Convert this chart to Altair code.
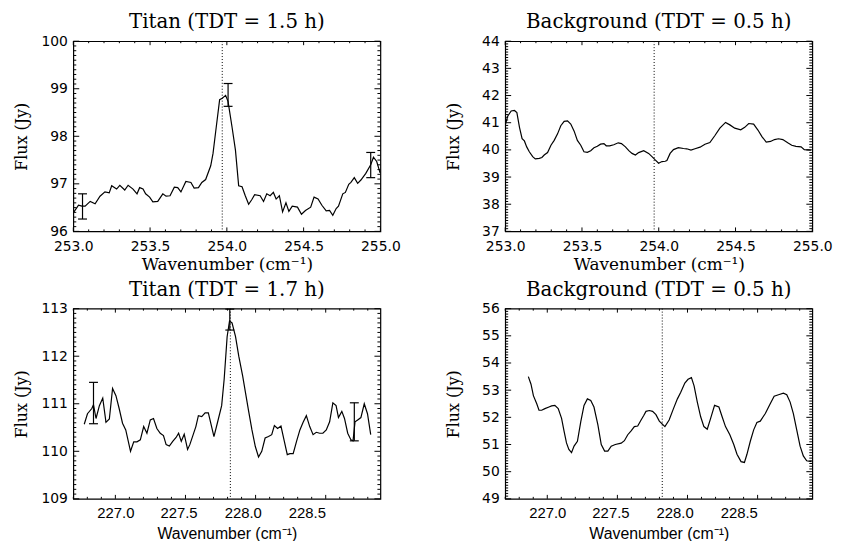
import altair as alt
import pandas as pd

# ---------------- data ----------------
# Panel 1: Titan (TDT = 1.5 h)
p1_wn = [253.002, 253.034, 253.056, 253.077, 253.110, 253.142, 253.174, 253.206, 253.234, 253.250,
         253.282, 253.303, 253.335, 253.357, 253.389, 253.415, 253.432, 253.454, 253.471, 253.497,
         253.518, 253.550, 253.583, 253.604, 253.630, 253.658, 253.680, 253.701, 253.733, 253.766,
         253.787, 253.815, 253.837, 253.862, 253.895, 253.910, 253.927, 253.953, 253.970, 253.992,
         254.008, 254.034, 254.056, 254.077, 254.099, 254.120, 254.142, 254.163, 254.181, 254.217,
         254.239, 254.260, 254.282, 254.303, 254.321, 254.342, 254.363, 254.385, 254.404, 254.426,
         254.460, 254.486, 254.512, 254.546, 254.568, 254.594, 254.619, 254.647, 254.669, 254.690,
         254.712, 254.727, 254.755, 254.772, 254.794, 254.808, 254.830, 254.852, 254.873, 254.905,
         254.937, 254.955, 254.976, 254.998]
p1_flux = [96.40, 96.55, 96.53, 96.53, 96.63, 96.58, 96.74, 96.83, 96.81, 96.96,
           96.89, 96.97, 96.87, 96.97, 96.89, 96.79, 96.92, 96.89, 96.79, 96.72,
           96.62, 96.63, 96.79, 96.74, 96.75, 96.93, 96.92, 96.83, 97.05, 97.03,
           96.91, 96.92, 97.03, 97.09, 97.38, 97.64, 98.09, 98.77, 98.80, 98.86,
           98.73, 98.19, 97.71, 96.96, 96.94, 96.75, 96.57, 96.67, 96.77, 96.75,
           96.63, 96.79, 96.75, 96.82, 96.68, 96.75, 96.41, 96.60, 96.42, 96.53,
           96.51, 96.36, 96.44, 96.51, 96.72, 96.68, 96.55, 96.43, 96.44, 96.34,
           96.48, 96.53, 96.79, 96.82, 96.99, 97.03, 97.13, 97.01, 97.08, 97.22,
           97.40, 97.56, 97.47, 97.23]
p1_err_wn = [253.060, 254.008, 254.937]
p1_err_lo = [96.26, 98.63, 97.13]
p1_err_hi = [96.79, 99.11, 97.66]
p1_line = 253.97

# Panel 2: Background (TDT = 0.5 h), upper
p2_wn = [253.002, 253.017, 253.039, 253.060, 253.076, 253.093, 253.110, 253.125, 253.140, 253.157,
         253.179, 253.196, 253.222, 253.239, 253.254, 253.276, 253.298, 253.319, 253.341, 253.362,
         253.384, 253.406, 253.427, 253.449, 253.470, 253.492, 253.513, 253.535, 253.557, 253.578,
         253.600, 253.621, 253.643, 253.658, 253.680, 253.707, 253.736, 253.757, 253.783, 253.805,
         253.826, 253.848, 253.869, 253.902, 253.934, 253.956, 253.977, 253.999, 254.021, 254.042,
         254.053, 254.074, 254.096, 254.128, 254.161, 254.182, 254.210, 254.236, 254.269, 254.301,
         254.333, 254.366, 254.398, 254.435, 254.463, 254.495, 254.534, 254.560, 254.586, 254.618,
         254.646, 254.672, 254.700, 254.728, 254.754, 254.780, 254.808, 254.840, 254.866, 254.894,
         254.927, 254.948, 254.991]
p2_flux = [40.95, 41.25, 41.43, 41.45, 41.37, 40.83, 40.41, 40.33, 40.11, 39.93,
           39.75, 39.67, 39.69, 39.72, 39.81, 39.90, 40.17, 40.35, 40.59, 40.89,
           41.05, 41.07, 40.95, 40.69, 40.35, 40.17, 39.93, 39.91, 39.97, 40.08,
           40.13, 40.21, 40.23, 40.15, 40.15, 40.19, 40.26, 40.23, 40.11, 39.97,
           39.87, 39.81, 39.90, 39.97, 39.87, 39.75, 39.63, 39.51, 39.57, 39.58,
           39.61, 39.87, 40.01, 40.08, 40.05, 40.04, 39.99, 40.04, 40.10, 40.21,
           40.27, 40.53, 40.80, 41.01, 40.92, 40.80, 40.74, 40.83, 40.97, 40.95,
           40.73, 40.49, 40.29, 40.31, 40.38, 40.41, 40.38, 40.26, 40.17, 40.13,
           40.11, 40.01, 39.99]
p2_line = 253.97

# Panel 3: Titan (TDT = 1.7 h)
p3_wn = [226.778, 226.801, 226.832, 226.844, 226.862, 226.886, 226.910, 226.933, 226.957, 226.980,
         227.004, 227.027, 227.051, 227.074, 227.108, 227.131, 227.154, 227.178, 227.202, 227.225,
         227.249, 227.272, 227.296, 227.320, 227.343, 227.362, 227.385, 227.409, 227.433, 227.451,
         227.470, 227.491, 227.515, 227.531, 227.555, 227.574, 227.592, 227.616, 227.640, 227.663,
         227.703, 227.727, 227.758, 227.776, 227.797, 227.814, 227.832, 227.857, 227.880, 227.908,
         227.927, 227.950, 227.974, 227.998, 228.021, 228.044, 228.068, 228.092, 228.115, 228.134,
         228.157, 228.181, 228.205, 228.226, 228.245, 228.268, 228.292, 228.316, 228.339, 228.362,
         228.386, 228.410, 228.433, 228.457, 228.480, 228.504, 228.528, 228.551, 228.574, 228.591,
         228.615, 228.634, 228.657, 228.680, 228.695, 228.709, 228.728, 228.751, 228.775, 228.798,
         228.821]
p3_flux = [110.57, 110.79, 110.90, 110.98, 110.69, 110.96, 111.12, 110.61, 110.68, 111.32,
           111.17, 110.90, 110.59, 110.45, 110.00, 110.20, 110.20, 110.24, 110.52, 110.38,
           110.66, 110.69, 110.48, 110.38, 110.33, 110.14, 110.11, 110.21, 110.29, 110.38,
           110.21, 110.36, 110.04, 110.14, 110.35, 110.52, 110.75, 110.73, 110.81, 110.81,
           110.31, 110.59, 110.96, 111.52, 112.41, 112.74, 112.70, 112.41, 112.00, 111.58,
           111.25, 110.85, 110.45, 110.10, 109.88, 110.00, 110.28, 110.31, 110.35, 110.54,
           110.48, 110.53, 110.21, 109.93, 109.95, 109.95, 110.21, 110.45, 110.61, 110.75,
           110.52, 110.35, 110.40, 110.38, 110.38, 110.45, 110.62, 111.02, 110.96, 110.71,
           110.84, 110.69, 110.38, 110.24, 110.22, 110.62, 110.66, 110.71, 111.00, 110.79,
           110.35]
p3_err_wn = [226.844, 227.816, 228.704]
p3_err_lo = [110.58, 112.55, 110.22]
p3_err_hi = [111.45, 112.99, 111.02]
p3_line = 227.82

# Panel 4: Background (TDT = 0.5 h), lower
p4_wn = [226.865, 226.884, 226.901, 226.925, 226.941, 226.960, 226.983, 227.012, 227.031, 227.054,
         227.078, 227.102, 227.120, 227.137, 227.154, 227.173, 227.191, 227.215, 227.239, 227.262,
         227.286, 227.310, 227.333, 227.361, 227.385, 227.409, 227.432, 227.456, 227.485, 227.527,
         227.550, 227.574, 227.598, 227.621, 227.645, 227.669, 227.687, 227.704, 227.728, 227.751,
         227.775, 227.799, 227.839, 227.869, 227.900, 227.928, 227.952, 227.981, 228.004, 228.028,
         228.047, 228.070, 228.094, 228.117, 228.141, 228.165, 228.193, 228.224, 228.247, 228.271,
         228.302, 228.330, 228.353, 228.382, 228.406, 228.424, 228.448, 228.472, 228.495, 228.519,
         228.555, 228.590, 228.618, 228.649, 228.684, 228.708, 228.732, 228.755, 228.779, 228.803,
         228.826, 228.850, 228.885]
p4_flux = [53.50, 53.22, 52.80, 52.50, 52.26, 52.26, 52.32, 52.38, 52.42, 52.44,
           52.32, 51.96, 51.48, 51.06, 50.82, 50.70, 50.94, 51.12, 51.84, 52.44,
           52.68, 52.62, 52.38, 51.72, 51.00, 50.76, 50.76, 50.94, 51.00, 51.05,
           51.14, 51.36, 51.50, 51.66, 51.68, 51.90, 52.06, 52.22, 52.25, 52.22,
           52.10, 51.86, 51.66, 51.90, 52.32, 52.68, 52.92, 53.26, 53.40, 53.46,
           53.16, 52.56, 52.02, 51.66, 51.56, 51.96, 52.44, 52.38, 52.02, 51.66,
           51.36, 51.00, 50.64, 50.37, 50.34, 50.64, 51.12, 51.54, 51.81, 51.86,
           52.14, 52.50, 52.78, 52.83, 52.89, 52.83, 52.56, 52.14, 51.54, 50.94,
           50.58, 50.40, 50.37]
p4_line = 227.82

# axis ranges and tick labels
top_xdom = [253.0, 255.0]
top_xmaj = [253.0, 253.5, 254.0, 254.5, 255.0]
bot_xdom = [226.70, 228.89]
bot_xmaj = [227.0, 227.5, 228.0, 228.5]
p1_ydom, p1_ymaj = [96, 100], [96, 97, 98, 99, 100]
p2_ydom, p2_ymaj = [37, 44], [37, 38, 39, 40, 41, 42, 43, 44]
p3_ydom, p3_ymaj = [109, 113], [109, 110, 111, 112, 113]
p4_ydom, p4_ymaj = [49, 56], [49, 50, 51, 52, 53, 54, 55, 56]

titles = ["Titan (TDT = 1.5 h)", "Background (TDT = 0.5 h)",
          "Titan (TDT = 1.7 h)", "Background (TDT = 0.5 h)"]
XTITLE = "Wavenumber (cm\u207b\u00b9)"
YTITLE = "Flux (Jy)"

# ---------------- style ----------------
W, H = 310, 192
XT_MAJ, XT_MIN = 4, 2
YT_MAJ, YT_MIN = 6, 3
SERIF = "DejaVu Serif"
SANS = "DejaVu Sans"

# the lower-row tick labels sit slightly left of their ticks in the original
BOTTOM_LABEL_SHIFT = {"condition": [{"test": "datum.value > 228.4", "value": -19},
                                    {"test": "datum.value > 227.9", "value": -13},
                                    {"test": "datum.value > 227.4", "value": -7}],
                      "value": 0}


def minor(lo, hi, step, majors):
    n = int(round((hi - lo) / step))
    vals = [round(lo + i * step, 3) for i in range(n + 1)]
    maj = set(round(m, 3) for m in majors)
    return [v for v in vals if v not in maj and lo - 1e-9 <= v <= hi + 1e-9]


def panel(title, wn, flux, line_x, xdom, xmaj, ydom, ymaj, err=None, bottom=False):
    xs = alt.Scale(domain=xdom, nice=False, zero=False)
    ys = alt.Scale(domain=ydom, nice=False, zero=False)
    extra = {}
    if bottom:
        xlf, xls, xlp = "Liberation Sans", 15, 7
        xtf, xts, xty = "Liberation Sans", 16, 35
        extra["labelOffset"] = BOTTOM_LABEL_SHIFT
    else:
        xlf, xls, xlp = SANS, 14, 8
        xtf, xts, xty = SERIF, 17, 33
    xaxis = alt.Axis(values=xmaj, format=".1f", ticks=False, tickSize=0, domain=False, grid=False,
                     labelFlush=False, labelOverlap=False, labelFont=xlf, labelFontSize=xls,
                     labelColor="black", labelPadding=xlp,
                     title=XTITLE, titleFont=xtf, titleFontSize=xts, titleFontWeight="normal",
                     titleColor="black", titleX=W / 2, titleY=xty, titleBaseline="middle",
                     titleAlign="center", **extra)
    yaxis = alt.Axis(values=ymaj, format="d", ticks=False, tickSize=0, domain=False, grid=False,
                     labelOverlap=False, labelFont=SANS, labelFontSize=14, labelColor="black",
                     labelPadding=6,
                     title=YTITLE, titleFont=SERIF, titleFontSize=16, titleFontWeight="normal",
                     titleColor="black", titleX=-52, titleY=H / 2, titleAngle=270,
                     titleBaseline="middle", titleAlign="center")

    def X(f):
        return alt.X(f, scale=xs, axis=xaxis)

    def Y(f):
        return alt.Y(f, scale=ys, axis=yaxis)

    df = pd.DataFrame({"wn": wn, "flux": flux})
    layers = [
        alt.Chart(df).mark_line(color="black", strokeWidth=1.2).encode(
            x=X("wn:Q"), y=Y("flux:Q"))
    ]
    # dotted reference line
    layers.append(alt.Chart(pd.DataFrame({"v": [line_x]})).mark_rule(
        color="black", strokeWidth=1, strokeDash=[1, 2]).encode(x=X("v:Q")))
    # error bars
    if err is not None:
        edf = pd.DataFrame({"wn": err[0], "lo": err[1], "hi": err[2]})
        layers.append(alt.Chart(edf).mark_rule(color="black", strokeWidth=1.2).encode(
            x=X("wn:Q"), y=Y("lo:Q"), y2="hi:Q"))
        for f in ["lo", "hi"]:
            layers.append(alt.Chart(edf).mark_rule(color="black", strokeWidth=1.2,
                                                   xOffset=-4.5, x2Offset=4.5).encode(
                x=X("wn:Q"), x2="wn:Q", y=Y(f + ":Q")))
    # inward ticks on all four sides
    xmin = minor(xdom[0], xdom[1], 0.1, xmaj)
    ymin = minor(ydom[0], ydom[1], 0.1, ymaj)
    for vals, ln in [(xmaj, XT_MAJ), (xmin, XT_MIN)]:
        tdf = pd.DataFrame({"v": vals})
        for y0, y1 in [(0, ln), (H, H - ln)]:
            layers.append(alt.Chart(tdf).mark_rule(color="black", strokeWidth=1).encode(
                x=X("v:Q"), y=alt.value(y0), y2=alt.value(y1)))
    for vals, ln in [(ymaj, YT_MAJ), (ymin, YT_MIN)]:
        tdf = pd.DataFrame({"v": vals})
        for x0, x1 in [(0, ln), (W, W - ln)]:
            layers.append(alt.Chart(tdf).mark_rule(color="black", strokeWidth=1).encode(
                y=Y("v:Q"), x=alt.value(x0), x2=alt.value(x1)))

    return alt.layer(*layers).properties(
        width=W, height=H,
        title=alt.TitleParams(text=title, font=SERIF, fontSize=20, fontWeight="normal",
                              color="black", offset=2, anchor="middle"))


c1 = panel(titles[0], p1_wn, p1_flux, p1_line, top_xdom, top_xmaj, p1_ydom, p1_ymaj,
           err=(p1_err_wn, p1_err_lo, p1_err_hi))
c2 = panel(titles[1], p2_wn, p2_flux, p2_line, top_xdom, top_xmaj, p2_ydom, p2_ymaj)
c3 = panel(titles[2], p3_wn, p3_flux, p3_line, bot_xdom, bot_xmaj, p3_ydom, p3_ymaj,
           err=(p3_err_wn, p3_err_lo, p3_err_hi), bottom=True)
c4 = panel(titles[3], p4_wn, p4_flux, p4_line, bot_xdom, bot_xmaj, p4_ydom, p4_ymaj, bottom=True)

chart = alt.concat(c1, c2, c3, c4, columns=2, spacing={"row": 78, "column": 126},
                   bounds="flush").configure_view(
    stroke="black", strokeWidth=1.2).properties(
    padding={"left": 13, "top": 9, "right": 10, "bottom": 0}, background="white")

chart.save("out.html", embed_options={"renderer": "svg", "actions": False})
